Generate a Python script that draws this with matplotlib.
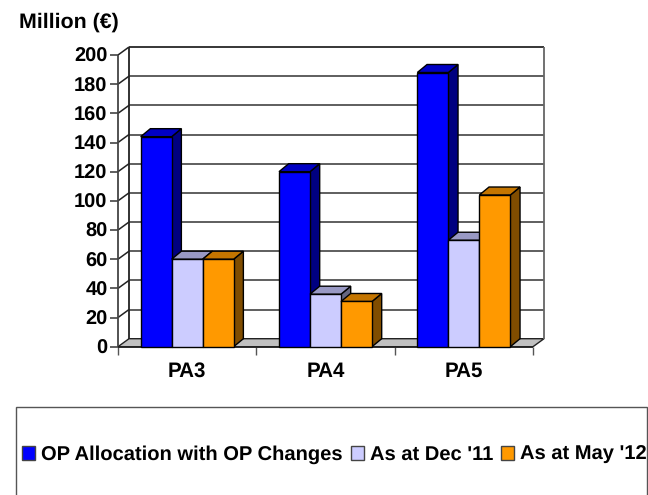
import matplotlib
matplotlib.use("Agg")
import matplotlib.pyplot as plt
from matplotlib.patches import Patch, Polygon, Rectangle

W, H = 648, 495

CATEGORIES = ["PA3", "PA4", "PA5"]
SERIES = ["OP Allocation with OP Changes", "As at Dec '11", "As at May '12"]
OP_ALLOCATION = [144, 120, 188]
AS_AT_DEC = [60, 36, 73]
AS_AT_MAY = [60, 31, 104]
Y_TICKS = list(range(0, 201, 20))

# front, top, side
COLORS = [
    ("#0000FF", "#0000C4", "#000080"),
    ("#CCCCFF", "#9999C4", "#666680"),
    ("#FF9900", "#C47500", "#804D00"),
]

plt.rcParams["font.family"] = ["Liberation Sans", "DejaVu Sans"]
plt.rcParams["font.weight"] = "bold"
plt.rcParams["text.hinting"] = "no_hinting"
FS = 14.4

fig = plt.figure(figsize=(W / 100, H / 100), dpi=100)
ax = fig.add_axes([118 / W, 1 - 346.7 / H, 415 / W, 291.7 / H])
ax.set_xlim(0, 3)
ax.set_ylim(0, 200)

# depth of the fake 3d box, in data units
DX = 11 * 3 / 415
DY = 8 * 200 / 291.7
BAR_DX = 9.7 * 3 / 415
BAR_W = 31 * 3 / 415
GRID = "#222222"

for side in ["top", "right", "bottom", "left"]:
    ax.spines[side].set_visible(False)
ax.patch.set_visible(False)


def poly(pts, fc, ec="black", lw=1.0, z=2):
    ax.add_patch(Polygon(pts, closed=True, fc=fc, ec=ec, lw=lw, zorder=z,
                         clip_on=False, joinstyle="miter"))


def line(xs, ys, color=GRID, lw=1.1, z=1):
    ax.plot(xs, ys, color=color, lw=lw, zorder=z, clip_on=False,
            solid_capstyle="butt")


# walls and floor
poly([(0, 0), (3, 0), (3 + DX, DY), (DX, DY)], "#C0C0C0", ec="#222222", z=1)
for v in Y_TICKS[1:]:
    line([0, DX], [v, v + DY])
    line([DX, 3 + DX], [v + DY, v + DY], color="#333333" if v < 200 else "black")
line([DX, DX], [DY, 200 + DY], color="#222222", lw=1.3)
line([3 + DX, 3 + DX], [DY, 200 + DY], color="#666666", lw=1.3)
line([0, 0], [0, 200], color="#444444", lw=1.3, z=3)
line([0, 3], [0, 0], color="#222222", lw=1.3, z=3)

# bars
all_values = [OP_ALLOCATION, AS_AT_DEC, AS_AT_MAY]
for i in range(len(CATEGORIES)):
    x0 = i + 0.5 - 1.5 * BAR_W
    for j, vals in enumerate(all_values):
        v = vals[i]
        x = x0 + j * BAR_W
        front, top, side = COLORS[j]
        poly([(x + BAR_W, 0), (x + BAR_W + BAR_DX, DY),
              (x + BAR_W + BAR_DX, v + DY), (x + BAR_W, v)], side, z=4 + i + j * 0.1)
        poly([(x, v), (x + BAR_W, v), (x + BAR_W + BAR_DX, v + DY),
              (x + BAR_DX, v + DY)], top, z=4 + i + j * 0.1)
        ax.bar(x, v, BAR_W, align="edge", color=front, edgecolor="black",
               lw=1.0, zorder=4.05 + i + j * 0.1, clip_on=False)

ax.set_yticks(Y_TICKS)
ax.set_xticks([0, 1, 2, 3])
ax.set_xticklabels([])
ax.tick_params(axis="y", length=6, width=1.2, color="#444444", labelsize=FS, pad=1.5)
ax.tick_params(axis="x", length=6, width=1.0, color="#555555")
for i, name in enumerate(CATEGORIES):
    ax.annotate(name, (i + 0.5, 0), xytext=(0, -18), textcoords="offset points",
                ha="center", va="center", fontsize=FS + 0.4, annotation_clip=False)

fig.text(19 / W, 1 - 22 / H, "Million (€)", fontsize=15.4, ha="left", va="center")

# legend box runs off the bottom of the picture
fig.add_artist(Rectangle((16 / W, -0.05), (647 - 16) / W, 0.05 + 1 - 407 / H,
                         transform=fig.transFigure, fc="white", ec="#555555", lw=1.0))
handles = [Patch(fc=c[0], ec="#444444", lw=1.0) for c in COLORS]
fig.legend(handles, SERIES, loc="center left", bbox_to_anchor=(22 / W, 1 - 455 / H),
           ncol=3, frameon=False, fontsize=14.5, handlelength=0.65, handleheight=0.65,
           handletextpad=0.3, columnspacing=0.4, borderpad=0, borderaxespad=0)

fig.savefig("out.png", dpi=100)
